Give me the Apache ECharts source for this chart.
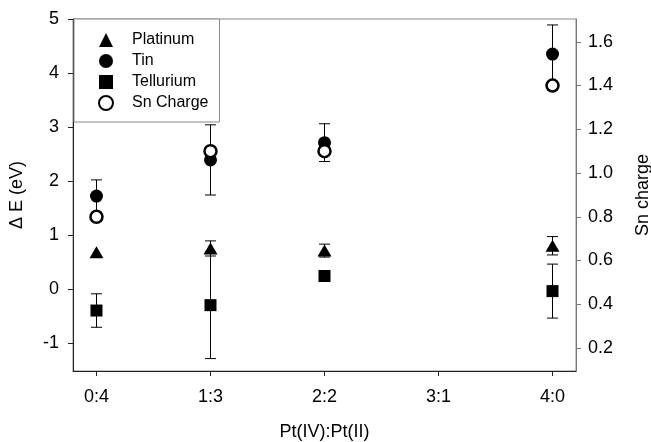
<!DOCTYPE html>
<html>
<head>
<meta charset="utf-8">
<script src="https://cdn.jsdelivr.net/npm/echarts@6/dist/echarts.min.js"></script>
<style>
    html, body { margin: 0; padding: 0; background: #fff; }
    #chart { width: 651px; height: 442px; }
</style>
</head>
<body>
<div id="chart"></div>
<script>
// ratio labels on the x axis, and where the measured points sit
var xLabels = ['0:4', '1:3', '2:2', '3:1', '4:0'];
var xPos = [0, 1, 2, 4];

// Delta E (eV), left axis
var platinum = [0.68, 0.75, 0.71, 0.80];
var platinumErr = [0, 0.14, 0.12, 0.17];
var tin = [1.72, 2.39, 2.71, 4.35];
var tinErr = [0.30, 0.65, 0.35, 0.54];
var tellurium = [-0.40, -0.30, 0.24, -0.04];
var telluriumErr = [0.31, 0.99, 0, 0.50];

// Sn charge, right axis
var snCharge = [0.80, 1.10, 1.10, 1.40];

var leftTicks = [-1, 0, 1, 2, 3, 4, 5];
var rightTicks = [0.2, 0.4, 0.6, 0.8, 1.0, 1.2, 1.4, 1.6];
var xTicks = [0, 1, 2, 3, 4];

var FONT = "'Liberation Sans', Arial, sans-serif";

var ChartSn = function() {

    function points(vals) {
        return xPos.map(function(x, i) { return [x, vals[i]]; });
    }

    function errPoints(vals, errs) {
        return xPos.map(function(x, i) { return [x, vals[i], errs[i]]; });
    }

    // vertical error bar with small caps
    function renderErr(params, api) {
        var x = api.value(0), y = api.value(1), e = api.value(2);
        if (!e) return;
        var hi = api.coord([x, y + e]);
        var lo = api.coord([x, y - e]);
        var w = 5.5;
        var st = { stroke: '#000', lineWidth: 1 };
        return {
            type: 'group',
            children: [
                { type: 'line', shape: { x1: hi[0], y1: hi[1], x2: lo[0], y2: lo[1] }, style: st },
                { type: 'line', shape: { x1: hi[0] - w, y1: hi[1], x2: hi[0] + w, y2: hi[1] }, style: st },
                { type: 'line', shape: { x1: lo[0] - w, y1: lo[1], x2: lo[0] + w, y2: lo[1] }, style: st }
            ]
        };
    }

    function errSeries(vals, errs) {
        return {
            type: 'custom',
            renderItem: renderErr,
            data: errPoints(vals, errs),
            encode: { x: 0, y: 1 },
            silent: true,
            z: 1
        };
    }

    return {
        init: function() {
            var myChart = echarts.init(document.getElementById('chart'));

            var option = {
                animation: false,
                textStyle: { fontFamily: FONT },
                grid: {
                    left: 73, right: 75, top: 19, bottom: 71,
                    outerBoundsMode: 'none',
                    show: true,
                    borderColor: '#888',
                    borderWidth: 1
                },
                legend: {
                    orient: 'vertical',
                    left: 74,
                    top: 19,
                    padding: [13, 11, 11, 24],
                    itemWidth: 14,
                    itemHeight: 14,
                    itemGap: 5,
                    borderColor: '#888',
                    borderWidth: 1,
                    backgroundColor: '#fff',
                    textStyle: { fontSize: 16, color: '#000', fontFamily: FONT, padding: [0, 0, 0, 14] },
                    data: ['Platinum', 'Tin', 'Tellurium', 'Sn Charge']
                },
                xAxis: {
                    type: 'value',
                    min: -0.206,
                    max: 4.206,
                    name: 'Pt(IV):Pt(II)',
                    nameLocation: 'middle',
                    nameGap: 52,
                    nameTextStyle: { fontSize: 18, color: '#000', fontFamily: FONT },
                    axisLine: { onZero: false, lineStyle: { color: '#222', width: 1 } },
                    axisTick: { show: true, inside: false, length: 5, customValues: xTicks, lineStyle: { color: '#222' } },
                    axisLabel: {
                        customValues: xTicks,
                        margin: 17,
                        fontSize: 18,
                        color: '#000',
                        fontFamily: FONT,
                        formatter: function(v) { return xLabels[Math.round(v)]; }
                    },
                    splitLine: { show: false }
                },
                yAxis: [
                    {
                        type: 'value',
                        position: 'left',
                        min: -1.52,
                        max: 5,
                        name: 'Δ E (eV)',
                        nameLocation: 'middle',
                        nameGap: 47,
                        nameTextStyle: { fontSize: 18, color: '#000', fontFamily: FONT },
                        axisLine: { show: true, onZero: false, lineStyle: { color: '#222', width: 1 } },
                        axisTick: { show: true, length: 5, customValues: leftTicks, lineStyle: { color: '#222' } },
                        axisLabel: { customValues: leftTicks, margin: 14, fontSize: 18, color: '#000', fontFamily: FONT },
                        splitLine: { show: false }
                    },
                    {
                        type: 'value',
                        position: 'right',
                        min: 0.095,
                        max: 1.704,
                        name: 'Sn charge',
                        nameLocation: 'middle',
                        nameGap: 58,
                        nameTextStyle: { fontSize: 18, color: '#000', fontFamily: FONT },
                        axisLine: { show: true, onZero: false, lineStyle: { color: '#777', width: 1 } },
                        axisTick: { show: true, length: 5, customValues: rightTicks, lineStyle: { color: '#777' } },
                        axisLabel: {
                            customValues: rightTicks,
                            margin: 12,
                            fontSize: 18,
                            color: '#000',
                            fontFamily: FONT,
                            formatter: function(v) { return v.toFixed(1); }
                        },
                        splitLine: { show: false }
                    }
                ],
                series: [
                    errSeries(platinum, platinumErr),
                    errSeries(tin, tinErr),
                    errSeries(tellurium, telluriumErr),
                    {
                        name: 'Platinum',
                        type: 'scatter',
                        symbol: 'triangle',
                        symbolSize: [14, 12],
                        itemStyle: { color: '#000', opacity: 1 },
                        data: points(platinum),
                        z: 3
                    },
                    {
                        name: 'Tin',
                        type: 'scatter',
                        symbol: 'circle',
                        symbolSize: 13,
                        itemStyle: { color: '#000', opacity: 1 },
                        data: points(tin),
                        z: 3
                    },
                    {
                        name: 'Tellurium',
                        type: 'scatter',
                        symbol: 'rect',
                        symbolSize: 12,
                        itemStyle: { color: '#000', opacity: 1 },
                        data: points(tellurium),
                        z: 3
                    },
                    {
                        name: 'Sn Charge',
                        type: 'scatter',
                        symbol: 'circle',
                        symbolSize: 12,
                        yAxisIndex: 1,
                        itemStyle: { color: '#fff', borderColor: '#000', borderWidth: 2.5, opacity: 1 },
                        data: points(snCharge),
                        z: 4
                    }
                ]
            };

            myChart.setOption(option);
        }
    };
}();

ChartSn.init();
</script>
</body>
</html>
